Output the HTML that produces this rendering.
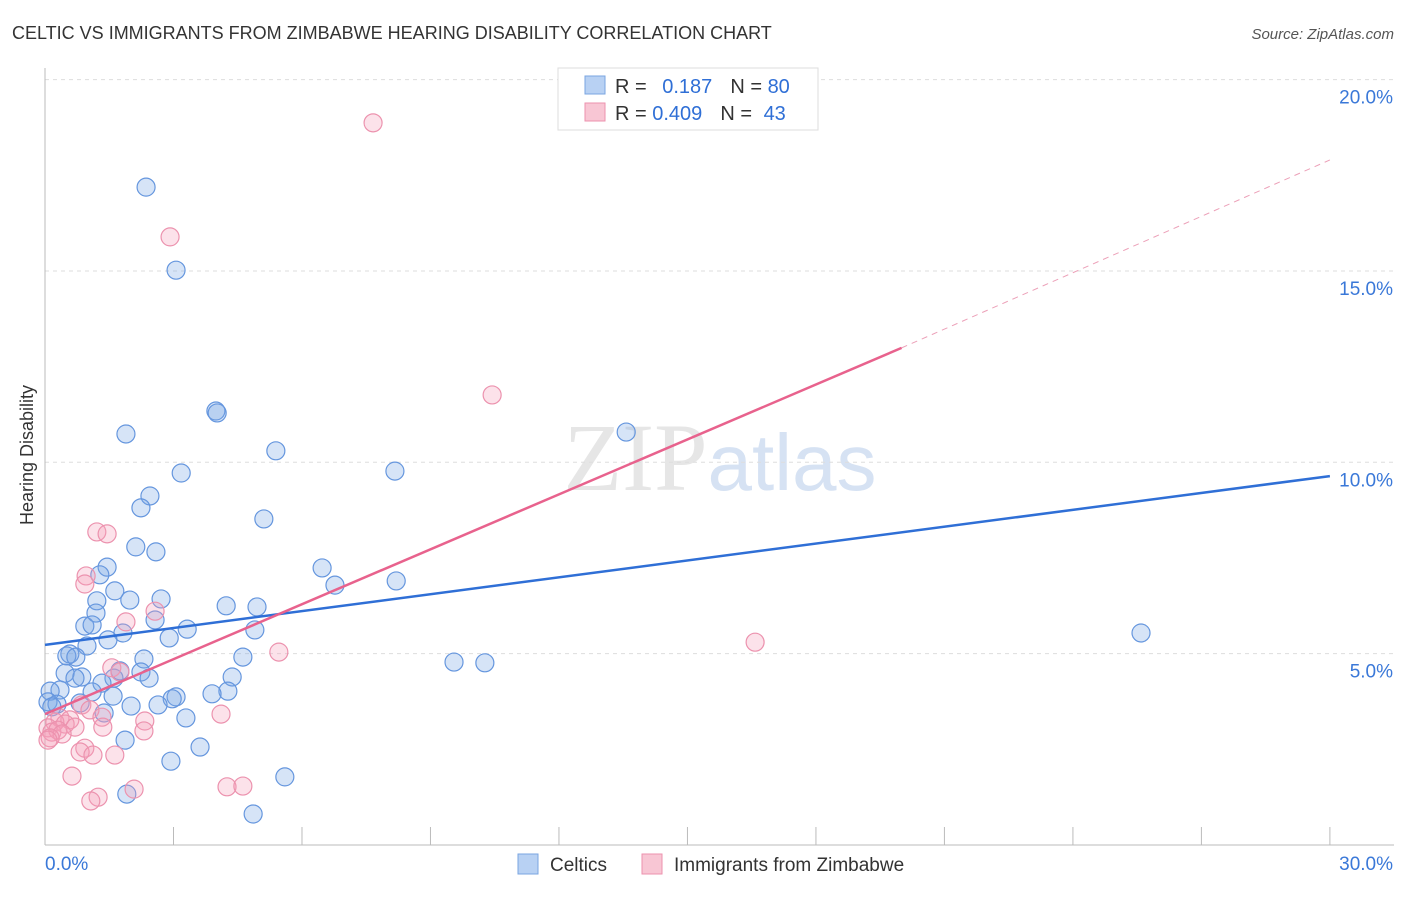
<!DOCTYPE html>
<html><head><meta charset="utf-8"><style>
body{margin:0;background:#fff;font-family:"Liberation Sans",sans-serif;}
svg text{font-family:"Liberation Sans",sans-serif;}
</style></head><body>
<svg id="c" width="1406" height="892" viewBox="0 0 1406 892" xmlns="http://www.w3.org/2000/svg">
<text x="12" y="39" font-size="18" fill="#333">CELTIC VS IMMIGRANTS FROM ZIMBABWE HEARING DISABILITY CORRELATION CHART</text>
<text x="1394" y="39" font-size="15" fill="#555" text-anchor="end" font-style="italic">Source: ZipAtlas.com</text>
<text x="720" y="490" font-size="96" text-anchor="middle" fill="#e6e6e6"><tspan font-family="Liberation Serif">ZIP</tspan><tspan fill="#d6e2f3" font-size="80">atlas</tspan></text>
<text transform="translate(33,455) rotate(-90)" font-size="18" fill="#333" text-anchor="middle">Hearing Disability</text>
<g id="grid"></g><g id="pts"></g><g id="lines"></g>
<g>
<rect x="558" y="68" width="260" height="62" fill="#fff" stroke="#ddd"/>
<rect x="585" y="76" width="20" height="18" fill="#b8d1f3" stroke="#7aa5e0"/>
<text x="615" y="93" font-size="20" fill="#333">R = <tspan fill="#2f6fd6" dx="10">0.187</tspan><tspan dx="18">N = </tspan><tspan fill="#2f6fd6">80</tspan></text>
<rect x="585" y="103" width="20" height="18" fill="#f8c6d4" stroke="#ec92ae"/>
<text x="615" y="120" font-size="20" fill="#333">R = <tspan fill="#2f6fd6">0.409</tspan><tspan dx="18">N = </tspan><tspan fill="#2f6fd6" dx="6">43</tspan></text>
</g>
<g>
<rect x="518" y="854" width="20" height="20" fill="#b8d1f3" stroke="#7aa5e0"/>
<text x="550" y="871" font-size="19" fill="#333">Celtics</text>
<rect x="642" y="854" width="20" height="20" fill="#f8c6d4" stroke="#ec92ae"/>
<text x="674" y="871" font-size="19" fill="#333">Immigrants from Zimbabwe</text>
</g>
</svg>
<script>
const celticX=[2.36,3.06,3.99,4.02,1.89,5.39,3.18,8.17,13.57,2.45,2.24,5.11,2.12,2.59,1.45,1.28,6.47,1.63,6.77,8.20,1.21,1.98,2.71,4.23,4.95,1.19,2.57,0.93,1.10,1.82,1.47,3.32,4.90,2.90,0.98,25.59,0.58,0.51,0.72,2.31,4.62,9.55,10.27,0.47,1.75,2.24,0.86,0.70,1.61,2.43,4.37,1.33,0.35,0.12,1.10,4.27,3.90,3.06,2.97,1.59,2.64,2.01,0.07,0.28,0.16,0.82,1.38,3.29,1.87,3.62,2.94,5.60,1.91,4.86];
const celticY=[17.19,15.02,11.34,11.29,10.74,10.30,9.72,9.77,10.79,9.12,8.81,8.52,7.79,7.66,7.26,7.06,7.24,6.64,6.79,6.90,6.38,6.40,6.43,6.25,6.22,6.06,5.88,5.72,5.75,5.54,5.36,5.64,5.62,5.41,5.20,5.54,4.99,4.94,4.91,4.86,4.91,4.78,4.76,4.49,4.55,4.52,4.39,4.36,4.36,4.36,4.39,4.23,4.05,4.02,4.00,4.02,3.95,3.87,3.82,3.89,3.66,3.63,3.74,3.68,3.61,3.71,3.45,3.32,2.74,2.56,2.19,1.78,1.33,0.81];
const zimX=[7.66,2.92,10.44,1.21,1.45,0.96,0.93,2.57,1.89,5.46,16.58,1.56,1.75,0.86,1.05,4.11,0.35,0.58,1.33,0.23,0.47,0.07,0.16,0.30,2.33,1.35,0.70,0.40,0.12,2.31,0.93,0.82,1.12,1.63,0.63,4.25,4.62,1.24,1.07,2.08,0.07];
const zimY=[18.87,15.89,11.76,8.18,8.13,7.03,6.82,6.11,5.83,5.04,5.30,4.63,4.52,3.66,3.53,3.42,3.32,3.27,3.34,3.21,3.16,3.06,2.95,3.00,3.24,3.08,3.08,2.90,2.80,2.98,2.53,2.43,2.35,2.35,1.80,1.52,1.54,1.25,1.15,1.46,2.74];
const yTicks=[5,10,15,20];
const yTickLabels=["5.0%","10.0%","15.0%","20.0%"];
const xTicks=[0,3,6,9,12,15,18,21,24,27,30];
const celticTrend=[5.23,9.64];
const zimTrend=[3.42,12.99,17.9];
const zimTrendX=[0,20,30];
const X=v=>45+v*42.83, Y=v=>845-v*38.27;
const NS="http://www.w3.org/2000/svg";
function mk(tag,attrs,parent){const e=document.createElementNS(NS,tag);for(const k in attrs)e.setAttribute(k,attrs[k]);parent.appendChild(e);return e;}
const g=document.getElementById('grid'),p=document.getElementById('pts'),l=document.getElementById('lines');
yTicks.forEach((t,i)=>{
 const ln=mk('line',{x1:45,x2:1394,y1:Y(t),y2:Y(t),stroke:'#ddd','stroke-dasharray':'4,4'},g);
 
 
 const tx=mk('text',{x:1393,y:Y(t)+24,'font-size':19,fill:'#3a78d8','text-anchor':'end'},g);
 tx.textContent=yTickLabels[i];
 
 
});
const ax=mk('line',{x1:45,x2:45,y1:68,y2:845,stroke:'#bbb'},g);


const bx=mk('line',{x1:45,x2:1394,y1:845,y2:845,stroke:'#bbb'},g);


xTicks.forEach(t=>{const tk=mk('line',{x1:X(t),x2:X(t),y1:827,y2:845,stroke:'#bbb'},g);
 
 });
const x0=mk('text',{x:45,y:870,'font-size':19,fill:'#3a78d8'},g);x0.textContent='0.0%';


const x1=mk('text',{x:1393,y:870,'font-size':19,fill:'#3a78d8','text-anchor':'end'},g);x1.textContent='30.0%';


celticX.forEach((v,i)=>{const c=mk('circle',{cx:X(v),cy:Y(celticY[i]),r:9,fill:'rgba(120,165,230,0.3)',stroke:'#6596de','stroke-width':1.2},p);
 
 });
zimX.forEach((v,i)=>{const c=mk('circle',{cx:X(v),cy:Y(zimY[i]),r:9,fill:'rgba(245,160,185,0.3)',stroke:'#ec92ae','stroke-width':1.2},p);
 
 });
const bl=mk('line',{x1:X(0),y1:Y(celticTrend[0]),x2:X(30),y2:Y(celticTrend[1]),stroke:'#2f6fd6','stroke-width':2.5},l);


const pl=mk('line',{x1:X(zimTrendX[0]),y1:Y(zimTrend[0]),x2:X(zimTrendX[1]),y2:Y(zimTrend[1]),stroke:'#e8628d','stroke-width':2.5},l);


const pd=mk('line',{x1:X(zimTrendX[1]),y1:Y(zimTrend[1]),x2:X(zimTrendX[2]),y2:Y(zimTrend[2]),stroke:'#eca0b8','stroke-width':1,'stroke-dasharray':'6,5'},l);


</script>
</body></html>
